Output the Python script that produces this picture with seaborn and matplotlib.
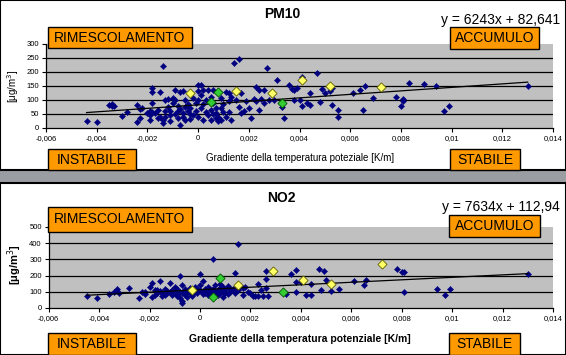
import numpy as np
import matplotlib
matplotlib.use("Agg")
import matplotlib.pyplot as plt
import seaborn as sns
from matplotlib.patches import Rectangle
from matplotlib.ticker import FuncFormatter, MultipleLocator

plt.rcParams["font.family"] = ["Liberation Sans", "DejaVu Sans"]

# --- PM10: gradiente [K/m] vs concentrazione ---
pm10_grad = [-0.0044, -0.0040, -0.0035, -0.0034, -0.0034, -0.0033, -0.0030, -0.0028, -0.0024, -0.0024,
             -0.0023, -0.0023, -0.0022, -0.0020, -0.0019, -0.0019, -0.0019, -0.0018, -0.0018, -0.0018,
             -0.0018, -0.0017, -0.0016, -0.0015, -0.0015, -0.0014, -0.0014, -0.0014, -0.0013, -0.0013,
             -0.0012, -0.0012, -0.0011, -0.0011, -0.0010, -0.0010, -0.0009, -0.0009, -0.0009, -0.0008,
             -0.0008, -0.0007, -0.0007, -0.0007, -0.0006, -0.0006, -0.0006, -0.0005, -0.0005, -0.0004,
             -0.0004, -0.0003, -0.0003, -0.0002, -0.0002, -0.0001, 0.0000, 0.0000, 0.0000, 0.0000,
             0.0001, 0.0001, 0.0001, 0.0002, 0.0002, 0.0003, 0.0003, 0.0004, 0.0004, 0.0005,
             0.0005, 0.0006, 0.0006, 0.0007, 0.0007, 0.0008, 0.0008, 0.0009, 0.0009, 0.0010,
             0.0010, 0.0011, 0.0012, 0.0012, 0.0012, 0.0013, 0.0014, 0.0015, 0.0016, 0.0016,
             0.0017, 0.0017, 0.0018, 0.0019, 0.0020, 0.0021, 0.0022, 0.0023, 0.0023, 0.0024,
             0.0024, 0.0025, 0.0026, 0.0026, 0.0027, 0.0028, 0.0030, 0.0031, 0.0033, 0.0034,
             0.0036, 0.0037, 0.0038, 0.0038, 0.0039, 0.0040, 0.0041, 0.0041, 0.0043, 0.0044,
             0.0044, 0.0047, 0.0048, 0.0049, 0.0050, 0.0052, 0.0053, 0.0053, 0.0055, 0.0055,
             0.0061, 0.0064, 0.0065, 0.0066, 0.0069, 0.0078, 0.0080, 0.0081, 0.0081, 0.0083,
             0.0089, 0.0094, 0.0097, 0.0099, 0.0130,
             -0.0016, -0.0013, -0.0011, -0.0008, -0.0005, -0.0003, -0.0001, 0.0002, 0.0005, 0.0006,
             0.0007, 0.0009, 0.0011, 0.0013]
pm10_val = [25, 22, 82, 86, 78, 80, 42, 58, 82, 23,
            35, 68, 72, 55, 62, 48, 29, 88, 142, 130,
            58, 52, 65, 130, 40, 222, 30, 18, 100, 38,
            75, 105, 62, 25, 108, 88, 136, 100, 50, 78,
            35, 12, 128, 68, 133, 55, 40, 100, 28, 85,
            60, 32, 70, 108, 45, 90, 153, 132, 100, 40,
            153, 118, 70, 30, 136, 100, 58, 136, 45, 110,
            65, 136, 50, 72, 35, 40, 25, 30, 108, 58,
            85, 130, 95, 124, 58, 29, 231, 100, 245, 76,
            124, 52, 62, 95, 70, 37, 103, 148, 98, 136,
            64, 105, 136, 90, 215, 100, 100, 171, 75, 37,
            153, 141, 136, 100, 142, 100, 183, 77, 90, 124,
            82, 195, 94, 138, 124, 133, 142, 82, 64, 38,
            124, 136, 64, 151, 106, 110, 79, 102, 98, 160,
            156, 150, 61, 80, 150,
            35, 60, 45, 60, 75, 50, 60, 85, 30, 90,
            55, 70, 40, 110]
pm10_yellow_grad = [-0.0003, 0.0015, 0.0029, 0.0041, 0.0052, 0.0072]
pm10_yellow_val = [125, 132, 124, 171, 150, 145]
pm10_green_grad = [0.0005, 0.0008, 0.0033]
pm10_green_val = [93, 128, 89]
pm10_slope, pm10_intercept = 6243, 82.641

# --- NO2 ---
no2_grad = [-0.0045, -0.0041, -0.0036, -0.0034, -0.0033, -0.0032, -0.0028, -0.0024, -0.0023, -0.0022,
            -0.0022, -0.0020, -0.0019, -0.0019, -0.0018, -0.0018, -0.0017, -0.0016, -0.0016, -0.0015,
            -0.0014, -0.0014, -0.0013, -0.0012, -0.0012, -0.0011, -0.0011, -0.0010, -0.0010, -0.0009,
            -0.0009, -0.0008, -0.0008, -0.0008, -0.0007, -0.0007, -0.0007, -0.0007, -0.0006, -0.0006,
            -0.0005, -0.0005, -0.0004, -0.0004, -0.0003, -0.0002, -0.0002, -0.0001, 0.0000, 0.0000,
            0.0000, 0.0001, 0.0001, 0.0001, 0.0002, 0.0002, 0.0003, 0.0003, 0.0004, 0.0004,
            0.0005, 0.0005, 0.0006, 0.0006, 0.0007, 0.0007, 0.0008, 0.0008, 0.0008, 0.0009,
            0.0009, 0.0010, 0.0010, 0.0011, 0.0011, 0.0012, 0.0013, 0.0014, 0.0014, 0.0015,
            0.0015, 0.0016, 0.0017, 0.0017, 0.0018, 0.0019, 0.0020, 0.0021, 0.0022, 0.0023,
            0.0023, 0.0024, 0.0025, 0.0026, 0.0026, 0.0026, 0.0027, 0.0034, 0.0036, 0.0038,
            0.0038, 0.0038, 0.0040, 0.0042, 0.0044, 0.0044, 0.0047, 0.0048, 0.0049, 0.0050,
            0.0052, 0.0055, 0.0061, 0.0065, 0.0066, 0.0078, 0.0080, 0.0081, 0.0081, 0.0094,
            0.0097, 0.0099, 0.0130,
            -0.0017, -0.0015, -0.0013, -0.0011, -0.0009, -0.0006, -0.0004, -0.0003, -0.0001, 0.0002,
            0.0004, 0.0006, 0.0009, 0.0012]
no2_val = [74, 64, 88, 99, 117, 95, 125, 62, 99, 99,
           85, 130, 154, 68, 110, 80, 95, 167, 105, 75,
           80, 120, 90, 154, 100, 80, 110, 95, 130, 75,
           115, 197, 100, 60, 30, 45, 90, 140, 120, 80,
           100, 70, 125, 90, 85, 130, 100, 95, 212, 140,
           110, 167, 100, 85, 120, 95, 130, 80, 105, 90,
           304, 120, 100, 140, 110, 80, 150, 125, 95, 130,
           70, 110, 90, 135, 85, 100, 120, 218, 90, 397,
           110, 130, 80, 125, 130, 100, 95, 75, 75, 150,
           75, 110, 75, 226, 180, 125, 75, 85, 208, 236,
           160, 99, 160, 78, 82, 150, 239, 109, 226, 171,
           103, 119, 167, 140, 171, 243, 222, 222, 99, 119,
           78, 119, 208,
           110, 90, 105, 95, 85, 105, 110, 75, 115, 105,
           120, 85, 100, 115]
no2_yellow_grad = [-0.0003, 0.0015, 0.0029, 0.0041, 0.0052, 0.0072]
no2_yellow_val = [111, 144, 229, 171, 146, 270]
no2_green_grad = [0.0005, 0.0008, 0.0033]
no2_green_val = [68, 185, 99]
no2_slope, no2_intercept = 7634, 112.94

W, H = 566, 355
ORANGE = "#ff9900"


def fx(px):
    return px / W


def fy(py):
    return 1 - py / H


def box(fig, x0, y0, x1, y1, label):
    fig.add_artist(Rectangle((fx(x0), fy(y1)), fx(x1 - x0), (y1 - y0) / H,
                             transform=fig.transFigure, fc=ORANGE, ec="black", lw=1, zorder=5))
    fig.text(fx((x0 + x1) / 2), fy((y0 + y1) / 2), label, ha="center", va="center",
             fontsize=10, color="black", zorder=6)


def comma_fmt(v, _):
    if abs(v) < 1e-12:
        return "0"
    return f"{v:.3f}".rstrip("0").replace(".", ",")


def panel(ax, grad, val, yg, yv, gg, gv, slope, intercept, ymax, ystep):
    ax.set_facecolor("#c0c0c0")
    for t in np.arange(ystep, ymax, ystep):
        ax.axhline(t, color="black", lw=0.9, zorder=1)
    sns.scatterplot(x=grad, y=val, ax=ax, marker="D", s=10, color="#000080",
                    edgecolor="#000080", linewidth=0.3, zorder=3)
    xs = np.array([min(grad), max(grad)])
    sns.lineplot(x=xs, y=slope * xs + intercept, ax=ax, color="black", lw=0.9, zorder=4)
    sns.scatterplot(x=yg, y=yv, ax=ax, marker="D", s=22, color="#ffff66",
                    edgecolor="#606000", linewidth=0.6, zorder=5)
    sns.scatterplot(x=gg, y=gv, ax=ax, marker="D", s=22, color="#33cc33",
                    edgecolor="#005500", linewidth=0.6, zorder=5)
    ax.set_xlim(-0.006, 0.014)
    ax.set_ylim(0, ymax)
    ax.xaxis.set_major_locator(MultipleLocator(0.002))
    ax.yaxis.set_major_locator(MultipleLocator(ystep))
    ax.xaxis.set_major_formatter(FuncFormatter(comma_fmt))
    for s in ("top", "right"):
        ax.spines[s].set_visible(False)
    for s in ("left", "bottom"):
        ax.spines[s].set_color("black")
        ax.spines[s].set_linewidth(0.9)
    ax.tick_params(direction="out", length=3, width=0.8, labelsize=5.5, pad=2, colors="black")
    ax.set_xlabel("")
    ax.set_ylabel("")


fig = plt.figure(figsize=(W / 100, H / 100), dpi=100)
fig.patch.set_facecolor("#9a9da2")

# white panels
fig.add_artist(Rectangle((0, fy(170)), 1, 170 / H, transform=fig.transFigure,
                         fc="white", ec="black", lw=1.5, zorder=0))
fig.add_artist(Rectangle((0, 0), 1, fy(183), transform=fig.transFigure,
                         fc="white", ec="black", lw=1.5, zorder=0))

ax1 = fig.add_axes([fx(46), fy(128), fx(553 - 46), (128 - 44) / H])
panel(ax1, pm10_grad, pm10_val, pm10_yellow_grad, pm10_yellow_val,
      pm10_green_grad, pm10_green_val, pm10_slope, pm10_intercept, 300, 50)

ax2 = fig.add_axes([fx(48.7), fy(308), fx(553 - 48.7), (308 - 227) / H])
panel(ax2, no2_grad, no2_val, no2_yellow_grad, no2_yellow_val,
      no2_green_grad, no2_green_val, no2_slope, no2_intercept, 500, 100)

# titles, labels and equations
fig.text(fx(282), fy(14), "PM10", ha="center", va="center", fontsize=10, fontweight="bold")
fig.text(fx(281), fy(198), "NO2", ha="center", va="center", fontsize=10, fontweight="bold")
fig.text(fx(560), fy(20), "y = 6243x + 82,641", ha="right", va="center", fontsize=10)
fig.text(fx(560), fy(207), "y = 7634x + 112,94", ha="right", va="center", fontsize=10)
fig.text(fx(300), fy(158), "Gradiente della temperatura poteziale [K/m]",
         ha="center", va="center", fontsize=7)
fig.text(fx(300), fy(339), "Gradiente della temperatura potenziale [K/m]",
         ha="center", va="center", fontsize=7.5, fontweight="bold")
fig.text(fx(13), fy(86), "[μg/m$^3$]", ha="center", va="center", rotation=90, fontsize=7)
fig.text(fx(15), fy(265), "[μg/m$^3$]", ha="center", va="center", rotation=90,
         fontsize=8, fontweight="bold")

# orange labels
box(fig, 48, 27, 192, 48, "RIMESCOLAMENTO")
box(fig, 450, 27, 539, 49, "ACCUMULO")
box(fig, 48, 149, 136, 170, "INSTABILE")
box(fig, 450, 149, 520, 170, "STABILE")
box(fig, 48, 207, 192, 232, "RIMESCOLAMENTO")
box(fig, 449, 215, 540, 237, "ACCUMULO")
box(fig, 48, 333, 136, 355, "INSTABILE")
box(fig, 449, 333, 520, 355, "STABILE")

fig.savefig("out.png", dpi=100, facecolor=fig.get_facecolor())
